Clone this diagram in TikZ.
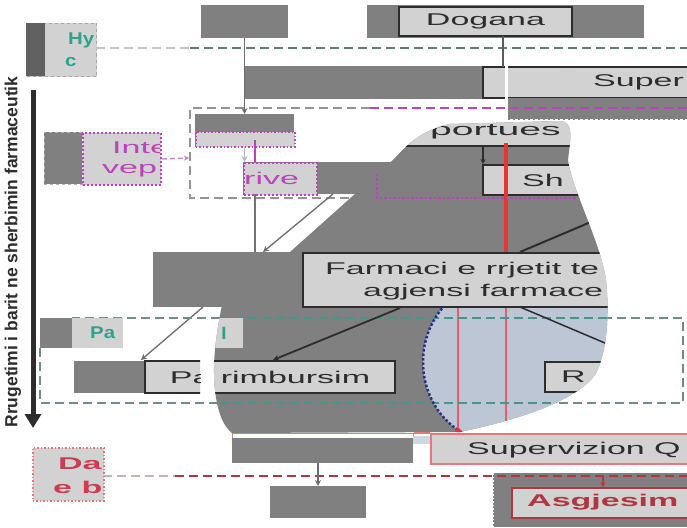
\documentclass[tikz,border=0pt]{standalone}
\usepackage{fontspec}
\setmainfont{Liberation Sans}
\usepackage{graphicx}
\usetikzlibrary{arrows.meta}
\definecolor{gr}{RGB}{128,128,128}
\definecolor{lt}{RGB}{210,210,210}
\definecolor{dk}{RGB}{45,45,45}
\definecolor{tealc}{RGB}{50,160,140}
\definecolor{tealg}{RGB}{110,140,138}
\definecolor{mag}{RGB}{185,70,185}
\definecolor{redc}{RGB}{225,55,55}
\definecolor{dred}{RGB}{175,55,65}
\definecolor{pinkc}{RGB}{230,120,120}
\definecolor{bluel}{RGB}{188,198,212}
\definecolor{bdot}{RGB}{40,50,130}
\definecolor{dgreen}{RGB}{95,125,105}
\newcommand\sx[1]{\scalebox{2}[1]{#1}}
\tikzset{
  gbox/.style={fill=gr, draw=none, inner sep=0pt, outer sep=0pt, anchor=north west},
  lbox/.style={fill=lt, draw=dk, line width=1.5pt, inner sep=0pt, outer sep=0pt, anchor=north west},
  lab/.style={font=\fontsize{17}{20}\selectfont, inner sep=0pt, anchor=west, text=dk},
  garrow/.style={draw=gr!85!black, line width=1.3pt, -{Stealth[length=6pt,width=6pt]}},
  gdash/.style={draw=gray!85, line width=1.5pt, dash pattern=on 9pt off 5pt},
}
\def\blobpath{(290,252) -- (393,160) .. controls (405,147) and (420,130) .. (450,124) -- (560,121)
  .. controls (575,122) and (570,140) .. (568,160) .. controls (572,190) and (600,240) .. (606,280)
  .. controls (610,320) and (606,355) .. (595,375) .. controls (580,395) and (540,415) .. (460,432)
  -- (232,433) .. controls (215,420) and (212,380) .. (215,350) .. controls (217,330) and (220,315) .. (222,305) -- cycle}
\begin{document}
\begin{tikzpicture}[x=1pt,y=-1pt]
\useasboundingbox (0,0) rectangle (687,527);
\fill[white] (0,0) rectangle (687,527);

% vertical axis
\coordinate (axT) at (33,90);
\coordinate (axB) at (33,428);
\draw[line width=5pt, draw=dk, -{Triangle[length=14pt,width=16pt]}] (axT) -- (axB);
\node[font=\bfseries\fontsize{17.5}{19}\selectfont, rotate=90, text=dk, inner sep=0pt] (axlab) at (13,252) {Rrugetimi i barit ne sherbimin farmaceutik};

% Hy box
\node[fill=lt, draw=gray!70, dashed, line width=1pt, minimum width=70pt, minimum height=53pt, inner sep=0pt, anchor=north west] (hy) at (26,23) {};
\node[gbox, fill=gr!75!black, minimum width=19pt, minimum height=53pt] (hyd) at (26,23) {};
\begin{scope}
\clip (26,23) rectangle (96,77);
\node[lab, text=tealc] (hyt1) at (68,40) {\scalebox{1.2}[1]{\bfseries Hy}};
\node[lab, text=tealc] (hyt2) at (65,62) {\scalebox{1.2}[1]{\bfseries c}};
\end{scope}

% green dashed line
\coordinate (gL) at (96,48); \coordinate (gM) at (190,48); \coordinate (gR) at (687,48);
\draw[gdash, draw=gray!45] (gL) -- (gM);
\draw[gdash, draw=dgreen] (gM) -- (gR);

% top
\node[gbox, minimum width=87pt, minimum height=33pt] (topg) at (201,5) {};
\node[gbox, minimum width=277pt, minimum height=33pt] (dogband) at (367,5) {};
\node[lbox, lab, anchor=north west, minimum width=173pt, minimum height=29pt] (dog) at (399,7) {\sx{Dogana}};
\node[gbox, minimum width=239pt, minimum height=33pt] (g2) at (244,66) {};
\node[lbox, minimum width=210pt, minimum height=31pt] (sup) at (483,67) {};
\node[lab] (supt) at (593,82) {\sx{Super}};
\coordinate (dl1) at (503,36); \coordinate (dl2) at (503,67);
\draw[draw=gr!70!black, line width=1.3pt] (dl1) -- (dl2);
\node[gbox, minimum width=182pt, minimum height=22pt] (rreg) at (507,98) {};
\coordinate (ws1) at (506,66); \coordinate (ws2) at (506,119);
\draw[white, line width=3pt] (ws1) -- (ws2);
\draw[white, line width=1.5pt, dash pattern=on 3pt off 2pt] (rreg.north west) -- (rreg.south west) -- (rreg.south east);

% dashed rectangle and magenta line
\coordinate (dr1) at (370,108); \coordinate (dr2) at (190,108); \coordinate (dr3) at (190,198); \coordinate (dr4) at (358,198);
\coordinate (mgR) at (687,108);
\draw[gdash] (dr1) -- (dr2) -- (dr3) -- (dr4);
\draw[gdash, draw=mag] (dr1) -- (mgR);

% box b1
\node[gbox, minimum width=99pt, minimum height=33pt] (b1) at (195,114) {};
\node[fill=lt, draw=mag, dotted, line width=1.5pt, minimum width=99pt, minimum height=15pt, anchor=north west, inner sep=0pt] (b1l) at (195,131) {};
\draw[garrow] (topg.south) -- (b1.north);

% rive
\node[gbox, minimum width=160pt, minimum height=32pt] (rivg) at (243,162) {};
\node[fill=lt, draw=mag, dotted, line width=2pt, minimum width=73pt, minimum height=32pt, anchor=north west, inner sep=0pt] (rive) at (243,162) {};
\begin{scope}
\clip (243,160) rectangle (316,196);
\node[lab, text=mag] (rivet) at (244,178) {\sx{rive}};
\end{scope}
\draw[garrow, draw=gray!55] (b1.south) -- (b1.south |- rive.north);
\coordinate (mv1) at (255,140); \coordinate (mv2) at (255,162);
\draw[mag, line width=1.5pt] (mv1) -- (mv2);

% Inte box
\node[gbox, draw=gray!60, dashed, line width=1pt, minimum width=38pt, minimum height=52pt] (intg) at (44,132) {};
\node[fill=lt, draw=mag, dotted, line width=2pt, minimum width=78pt, minimum height=52pt, anchor=north west, inner sep=0pt] (inte) at (82,132) {};
\begin{scope}
\clip (82,130) rectangle (159,186);
\node[lab, text=mag] (intt1) at (112,148) {\sx{Inte}};
\node[lab, text=mag] (intt2) at (102,171) {\sx{vep}};
\end{scope}
\coordinate (drL) at (189,158);
\draw[mag!70, line width=1.3pt, dash pattern=on 5pt off 3pt, -{Stealth[length=5pt,width=5pt]}] (inte.east) -- (drL);

% lines below rive
\coordinate (rv1) at (255,194); \coordinate (rv2) at (255,252);
\draw[draw=gr!90!black, line width=1.3pt] (rv1) -- (rv2);
\coordinate (dg1) at (333,194); \coordinate (dg2) at (263,252);
\draw[garrow] (dg1) -- (dg2);

% gray rect
\node[gbox, minimum width=147pt, minimum height=55pt] (g3) at (153,252) {};
\coordinate (pa1) at (203,307); \coordinate (pa2) at (141,360);
\draw[garrow] (pa1) -- (pa2);

% teal dashed rect
\coordinate (t1) at (40,348); \coordinate (t2) at (40,403); \coordinate (t3) at (683,403); \coordinate (t4) at (683,318); \coordinate (t5) at (72,318);
\draw[gdash, draw=tealg] (t1) -- (t2) -- (t3) -- (t4) -- (t5);
\node[gbox, minimum width=32pt, minimum height=30pt] (pag) at (40,318) {};
\node[fill=lt, inner sep=0pt, minimum width=51pt, minimum height=30pt, anchor=north west] (pal) at (72,318) {};
\begin{scope}
\clip (72,316) rectangle (123,350);
\node[lab, text=tealc] (palt) at (90,333) {\scalebox{1.2}[1]{\bfseries Pa}};
\end{scope}

% Pa rimbursim outer part
\node[gbox, minimum width=71pt, minimum height=32pt] (prg) at (74,361) {};
\begin{scope}
\clip (140,355) rectangle (200,400);
\node[lbox, lab, anchor=north west, minimum width=250pt, minimum height=32pt] (pr1) at (145,361) {\sx{Pa rimbursim}};
\end{scope}

% ===== blob =====
\fill[gr] \blobpath;
\begin{scope}
\clip \blobpath;
\fill[bluel] (497,362) ellipse [x radius=74, y radius=80];
\fill[bluel] (497,300) rectangle (640,445);
\coordinate (rl1) at (458,307); \coordinate (rl2) at (458,433);
\coordinate (rl3) at (506,307); \coordinate (rl4) at (506,433);
\draw[redc!80, line width=1.5pt] (rl1) -- (rl2);
\draw[redc!80, line width=1.5pt] (rl3) -- (rl4);
\draw[gdash, draw=tealc!70!gray] (150,318) -- (683,318);
\draw[gdash, draw=tealc!70!gray] (150,403) -- (683,403);
\draw[bdot, dotted, line width=2.5pt] (497,282) arc[start angle=270, end angle=90, x radius=74, y radius=80];
\fill[redc] (458,431) circle (3);
\coordinate (dd1) at (520,307); \coordinate (dd2) at (612,346);
\draw[dk, line width=1.5pt] (dd1) -- (dd2);
\node[lbox, minimum width=100pt, minimum height=30pt] (rbox) at (545,362) {};
\node[lab] (rt) at (561,377) {\sx{R}};
\node[fill=lt, inner sep=0pt, minimum width=90pt, minimum height=30pt, anchor=north west] (pal2) at (153,318) {};
\node[lab, text=tealc] (pal2t) at (221,333) {\scalebox{1.2}[1]{\bfseries l}};
\node[lbox, lab, anchor=north west, minimum width=250pt, minimum height=32pt] (pr2) at (145,361) {\sx{Pa rimbursim}};
% top part in blob
\node[lbox, draw=none, minimum width=200pt, minimum height=25pt] (imp) at (380,120) {};
\coordinate (ib1) at (380,146); \coordinate (ib2) at (580,146);
\draw[dk, line width=1.8pt] (ib1) -- (ib2);
\node[lab] (impt) at (430,132) {\scalebox{2.3}[1]{portues}};
\coordinate (ar1) at (483,146); \coordinate (ar2) at (483,164);
\draw[dk, line width=1.5pt, -{Stealth[length=5pt,width=5pt]}] (ar1) -- (ar2);
\node[lbox, minimum width=130pt, minimum height=30pt] (sh) at (483,165) {};
\node[lab] (sht) at (522,180) {\sx{Sh}};
\coordinate (rd1) at (506,143); \coordinate (rd2) at (506,253);
\draw[redc, line width=3.5pt] (rd1) -- (rd2);
\coordinate (mg1) at (377,160); \coordinate (mg2) at (377,198); \coordinate (mg3) at (610,198);
\draw[mag, dotted, line width=2.5pt] (mg1) -- (mg2) -- (mg3);
\coordinate (dk1) at (520,252); \coordinate (dk2) at (605,216);
\draw[dk, line width=2pt] (dk1) -- (dk2);
\node[lbox, minimum width=340pt, minimum height=54pt] (farm) at (303,253) {};
\node[lab] (ft1) at (325,270) {\sx{Farmaci e rrjetit te}};
\node[lab] (ft2) at (363,292) {\sx{agjensi farmace}};
\coordinate (fp1) at (400,308); \coordinate (fp2) at (273,360);
\draw[dk, line width=1.8pt, -{Stealth[length=6pt,width=6pt]}] (fp1) -- (fp2);
\end{scope}

% bottom
\node[draw=pinkc, fill=white, line width=1pt, minimum width=181pt, minimum height=5pt, anchor=north west, inner sep=0pt] (pk) at (232,433) {};
\node[gbox, minimum width=181pt, minimum height=25pt] (g4) at (232,438) {};
\node[gbox, minimum width=96pt, minimum height=32pt] (g5) at (270,486) {};
\node[fill=bluel!70, inner sep=0pt, minimum width=17pt, minimum height=8pt, anchor=north west] (bp) at (413,436) {};
\node[fill=lt, draw=pinkc, line width=1.5pt, minimum width=262pt, minimum height=30pt, anchor=north west, inner sep=0pt] (sv) at (430,433) {};
\node[lab] (svt) at (467,450) {\sx{Supervizion Q}};
\draw[pinkc, line width=1.5pt] (pk.north east) -- (sv.north west);

\node[gbox, minimum width=194pt, minimum height=54pt] (ab) at (493,473) {};
\draw[white, dotted, line width=1.5pt] (ab.north west) -- (ab.south west);
\coordinate (rL) at (103,476); \coordinate (rM) at (175,476); \coordinate (rR) at (687,476);
\draw[gdash, draw=pinkc!40!gray!60] (rL) -- (rM);
\draw[gdash, draw=dred] (rM) -- (rR);
\draw[garrow] (g5.north |- g4.south) -- (g5.north);
\node[fill=lt, draw=dred, line width=2pt, minimum width=185pt, minimum height=30pt, anchor=north west, inner sep=0pt] (asg) at (511,487) {};
\node[lab, text=dred] (asgt) at (527,502) {\sx{\bfseries Asgjesim}};
\coordinate (sa1) at (603,476);
\draw[dred, line width=1.5pt, -{Stealth[length=5pt,width=5pt]}] (sa1) -- (sa1 |- asg.north);

% Da box
\node[fill=lt, draw=pinkc, dotted, line width=1.5pt, minimum width=71pt, minimum height=53pt, anchor=north west, inner sep=0pt] (da) at (32,447) {};
\begin{scope}
\clip (32,445) rectangle (103,502);
\node[lab, text={rgb,255:red,205;green,60;blue,80}] (dat1) at (58,464) {\sx{\bfseries Da}};
\node[lab, text={rgb,255:red,205;green,60;blue,80}] (dat2) at (53,487) {\sx{\bfseries e b}};
\end{scope}
\end{tikzpicture}
\end{document}
